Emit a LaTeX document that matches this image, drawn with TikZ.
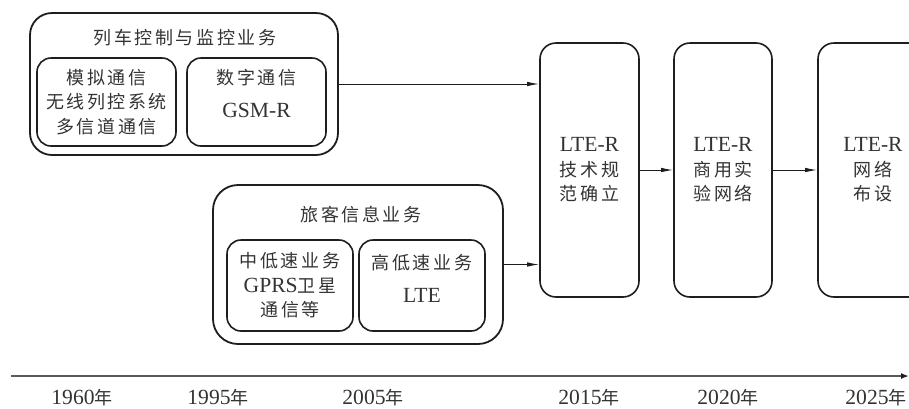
\documentclass[tikz,border=0pt]{standalone}
\usepackage{fontspec}
\setmainfont{Noto Sans CJK SC}[LetterSpace=14]
\newfontfamily\en{Liberation Serif}[Scale=1.2]
\usepackage{tikz}
\usetikzlibrary{arrows.meta}
\usetikzlibrary{positioning}
\usetikzlibrary{calc}
\definecolor{inkline}{HTML}{1E1E1E}
\definecolor{inktext}{HTML}{333333}
\definecolor{axisgray}{HTML}{5A5A5A}
\tikzset{
  % Thin connectors with a slim filled tip
  >={Latex[length=12pt,width=4.5pt]},
  line/.style={draw=inkline, line width=1pt, ->}
}

\begin{document}
\begin{tikzpicture}[x=1pt, y=-1pt, font=\fontsize{18}{24.5}\selectfont, text=inktext]
    % Define styles
    \tikzstyle{group} = [draw=inkline, line width=1.8pt, rectangle, rounded corners=22pt]
    \tikzstyle{inbox} = [draw=inkline, line width=1.6pt, rectangle, rounded corners=14pt, minimum width=139pt, minimum height=88pt, align=center]
    \tikzstyle{stage} = [draw=inkline, line width=1.6pt, rectangle, rounded corners=16pt, minimum height=254pt, align=center]
    \tikzstyle{year} = [inner sep=0pt]

    \useasboundingbox (0,0) rectangle (909,408);
    \clip (0,0) rectangle (909,408);

    % Train control and monitoring
    \node [group, minimum width=308pt, minimum height=142pt] (train) at (184,84) {};
    \node (trainTitle) at (185,38) {列车控制与监控业务};
    \node [inbox] (analog) at (106.5,102) {模拟通信\\无线列控系统\\多信道通信};
    \node [inbox] (digital) at (256.5,102) {};
    \node [align=center] (digitalTxt) at (256.5,93.5) {数字通信\\[8pt]{\en GSM-R}};

    % Passenger information
    \node [group, rounded corners=25pt, minimum width=290pt, minimum height=159pt] (passenger) at (358,264.5) {};
    \node (passengerTitle) at (361,215) {旅客信息业务};
    \node [inbox, minimum width=126pt, minimum height=91pt] (lowspeed) at (290,285.5) {中低速业务\\{\en GPRS}卫星\\通信等};
    \node [inbox, minimum width=126pt, minimum height=91pt] (highspeed) at (422,285.5) {};
    \node [align=center] (highspeedTxt) at (422,278.5) {高低速业务\\[8pt]{\en LTE}};

    % LTE-R stages
    \node [stage, minimum width=99pt] (spec) at (589.5,170) {{\en LTE-R}\\技术规\\范确立};
    \node [stage, minimum width=98pt] (trial) at (723,170) {{\en LTE-R}\\商用实\\验网络};
    \node [stage, minimum width=110pt] (deploy) at (873,170) {{\en LTE-R}\\网络\\布设};

    % Draw edges
    \path [line] (train.east) -- (train.east -| spec.west);
    \path [line] (passenger.east) -- (passenger.east -| spec.west);
    \path [line] (spec) -- (trial);
    \path [line] (trial) -- (deploy);

    % Time axis
    \coordinate (axisStart) at (11,376);
    \coordinate (axisEnd) at (909,376);
    \draw [draw=axisgray, line width=2pt, -{Latex[length=8pt,width=6pt,color=inkline]}] (axisStart) -- (axisEnd);
    \node [year] (y1960) at (82,398) {{\en 1960}年};
    \node [year] (y1995) at (218,398) {{\en 1995}年};
    \node [year] (y2005) at (373,398) {{\en 2005}年};
    \node [year] (y2015) at (589,398) {{\en 2015}年};
    \node [year] (y2020) at (728,398) {{\en 2020}年};
    \node [year] (y2025) at (876,398) {{\en 2025}年};
\end{tikzpicture}
\end{document}
